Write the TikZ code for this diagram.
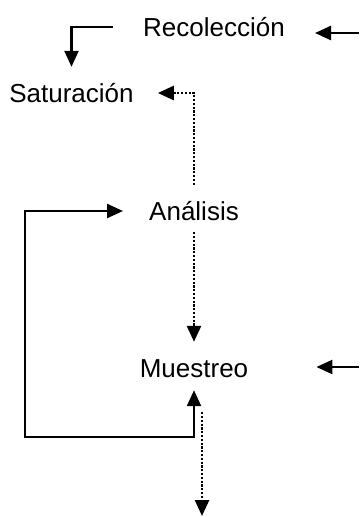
\documentclass[tikz,border=0pt]{standalone}
\usepackage{fontspec}
\setmainfont{Liberation Sans}
\usepackage{tikz}
\usetikzlibrary{arrows,arrows.meta,calc,positioning}
\tikzset{
  stage/.style = {inner sep=0pt, anchor=base, text height=18pt, text depth=0pt,
  font=\fontsize{26}{30}\selectfont, black},
  solidarr/.style = {line width=2.4pt},
  dotarr/.style = {line width=2.6pt, dash pattern=on 2.2pt off 1.6pt}
}

\begin{document}
\begin{tikzpicture}[x=1pt,y=-1pt,>={Triangle[length=16pt,width=14pt]}]
    \useasboundingbox (0,0) rectangle (359,517);
    % stages
    \node [stage] (rec) at (214,36) {Recolección};
    \node [stage] (sat) at (71.5,102) {Saturación};
    \node [stage] (ana) at (194,220) {Análisis};
    \node [stage] (mue) at (194,377) {Muestreo};
    \coordinate (recin) at (359,33);
    \coordinate (muein) at (359,367);
    \coordinate (loop) at (25,437);
    \coordinate (out) at (202,516);
    % connectors
    \draw[solidarr,->] (recin) -- ([xshift=30pt]rec.east |- recin);
    \draw[solidarr,->] ([xshift=-30pt]rec.west) -| ([yshift=17pt]sat.north);
    \draw[dotarr,->] ([yshift=17pt]ana.north) |- ([xshift=24pt]sat.east);
    \draw[dotarr,->] ([yshift=-12pt]ana.south) -- ([yshift=17pt]mue.north);
    \draw[solidarr,<->] ([yshift=-13pt]mue.south) |- (loop) |- ([xshift=-26pt]ana.west);
    \draw[solidarr,->] (muein) -- ([xshift=68pt]mue.east |- muein);
    \draw[dotarr,->] ([xshift=8pt,yshift=-35pt]mue.south) -- (out);
\end{tikzpicture}
\end{document}
